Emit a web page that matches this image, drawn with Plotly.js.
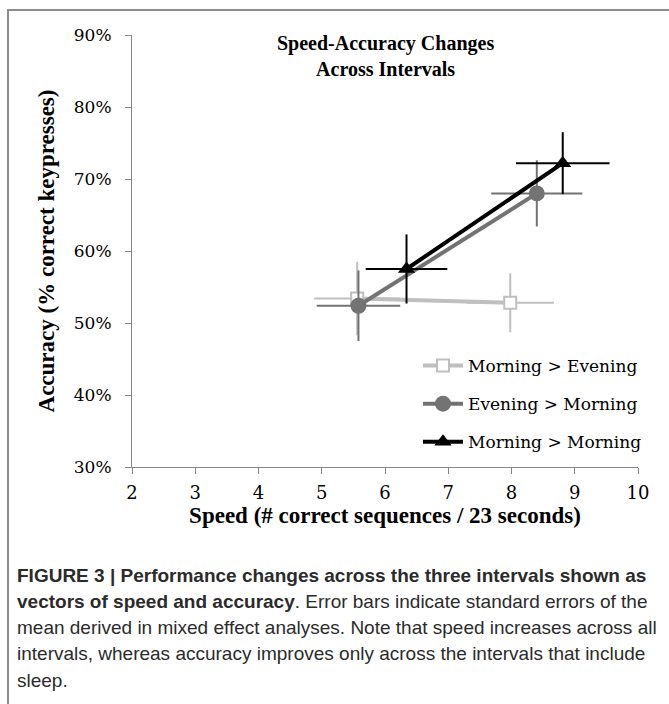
<!DOCTYPE html>
<html>
<head>
<meta charset="utf-8">
<script src="https://cdn.plot.ly/plotly-3.0.1.min.js"></script>
<style>
  html, body { margin: 0; padding: 0; background: #ffffff; }
  #frame { position: absolute; left: 7px; top: 9px; width: 662px; height: 695px;
           border-top: 2px solid #8c8c8c; border-left: 2px solid #8c8c8c; box-sizing: border-box; }
  #chart { position: absolute; left: 0; top: 0; width: 669px; height: 704px; }
</style>
</head>
<body>
<div id="frame"></div>
<div id="chart"></div>
<script>
// ---- data ----
var seriesNames = ["Morning > Evening", "Evening > Morning", "Morning > Morning"];

var moeSpeed = [5.56, 7.98];
var moeAcc = [0.534, 0.528];
var moeSpeedErr = [0.68, 0.69];
var moeAccErr = [0.051, 0.041];

var eomSpeed = [5.58, 8.40];
var eomAcc = [0.524, 0.680];
var eomSpeedErr = [0.66, 0.72];
var eomAccErr = [0.049, 0.046];

var momSpeed = [6.34, 8.81];
var momAcc = [0.575, 0.722];
var momSpeedErr = [0.645, 0.74];
var momAccErr = [0.048, 0.043];

var xTickVals = [2, 3, 4, 5, 6, 7, 8, 9, 10];
var yTickVals = [0.3, 0.4, 0.5, 0.6, 0.7, 0.8, 0.9];

var chartTitle = "Speed-Accuracy Changes<br>Across Intervals";
var xTitle = "Speed (# correct sequences / 23 seconds)";
var yTitle = "Accuracy (% correct keypresses)";

var captionLines = [
  "<b>FIGURE 3 | Performance changes across the three intervals shown as</b>",
  "<b>vectors of speed and accuracy</b>. Error bars indicate standard errors of the",
  "mean derived in mixed effect analyses. Note that speed increases across all",
  "intervals, whereas accuracy improves only across the intervals that include",
  "sleep."
];

// ---- styling ----
var lightGray = "#bfbfbf";
var midGray = "#737373";
var black = "#000000";
var serif = "DejaVu Serif, serif";
var serifBold = "Liberation Serif, Times New Roman, serif";

function mkTrace(name, xs, ys, xe, ye, color, marker, group) {
  return {
    type: "scatter", mode: "lines+markers", name: name,
    x: xs, y: ys, legendgroup: group,
    line: { color: color, width: 4 },
    marker: marker,
    error_x: { type: "data", array: xe, visible: true, color: color, thickness: 2, width: 0 },
    error_y: { type: "data", array: ye, visible: true, color: color, thickness: 2, width: 0 }
  };
}

var traces = [
  mkTrace(seriesNames[0], moeSpeed, moeAcc, moeSpeedErr, moeAccErr, lightGray,
    { symbol: "square", size: 12, color: "#ffffff", line: { color: lightGray, width: 2 } }, "a"),
  mkTrace(seriesNames[1], eomSpeed, eomAcc, eomSpeedErr, eomAccErr, midGray,
    { symbol: "circle", size: 16, color: midGray, line: { width: 0 } }, "b"),
  mkTrace(seriesNames[2], momSpeed, momAcc, momSpeedErr, momAccErr, black,
    { symbol: "triangle-up", size: 15, color: black, line: { width: 0 } }, "c")
];

// layout helpers (pixel -> paper)
var L = 132, R = 31, T = 35, B = 237, W = 669, H = 704;
var pw = W - L - R, ph = H - T - B;
function px(xp) { return (xp - L) / pw; }
function py(yp) { return (H - B - yp) / ph; }

var captionY = [575, 601, 627, 653, 680];
var annotations = captionLines.map(function (t, i) {
  return {
    text: t, xref: "paper", yref: "paper", x: px(15), y: py(captionY[i]),
    xanchor: "left", yanchor: "middle", showarrow: false, align: "left",
    font: { family: "Liberation Sans, Arial, sans-serif", size: 19, color: "#2b2b2b" }
  };
});
annotations.push({
  text: "<b>" + chartTitle + "</b>", xref: "paper", yref: "paper",
  x: 0.5, y: py(56), xanchor: "center", yanchor: "middle", showarrow: false, align: "center",
  font: { family: serifBold, size: 20, color: "#000" }
});

var layout = {
  width: W, height: H,
  margin: { l: L, r: R, t: T, b: B, pad: 0 },
  paper_bgcolor: "rgba(0,0,0,0)",
  plot_bgcolor: "rgba(0,0,0,0)",
  showlegend: true,
  xaxis: {
    range: [2, 10], tickvals: xTickVals, ticktext: xTickVals.map(String),
    showgrid: false, zeroline: false, showline: true, linecolor: "#868686", linewidth: 1,
    ticks: "outside", ticklen: 6, tickcolor: "#868686", tickwidth: 1,
    ticklabelstandoff: 3,
    tickfont: { family: serif, size: 18, color: "#000" },
    title: { text: "<b>" + xTitle + "</b>", font: { family: serifBold, size: 23, color: "#000" }, standoff: 5 }
  },
  yaxis: {
    range: [0.3, 0.9], tickvals: yTickVals, tickformat: ".0%",
    showgrid: false, zeroline: false, showline: true, linecolor: "#868686", linewidth: 1,
    ticks: "outside", ticklen: 6, tickcolor: "#868686", tickwidth: 1,
    ticklabelstandoff: 10,
    tickfont: { family: serif, size: 17, color: "#000" },
    title: { text: "<b>" + yTitle + "</b>", font: { family: serifBold, size: 23, color: "#000" }, standoff: 12 }
  },
  legend: {
    x: px(418), y: py(348), xanchor: "left", yanchor: "top",
    bgcolor: "rgba(0,0,0,0)", borderwidth: 0,
    font: { family: serif, size: 17, color: "#000" },
    tracegroupgap: 13, itemwidth: 40, traceorder: "grouped"
  },
  annotations: annotations
};

Plotly.newPlot("chart", traces, layout, { displayModeBar: false, staticPlot: true });
</script>
</body>
</html>
